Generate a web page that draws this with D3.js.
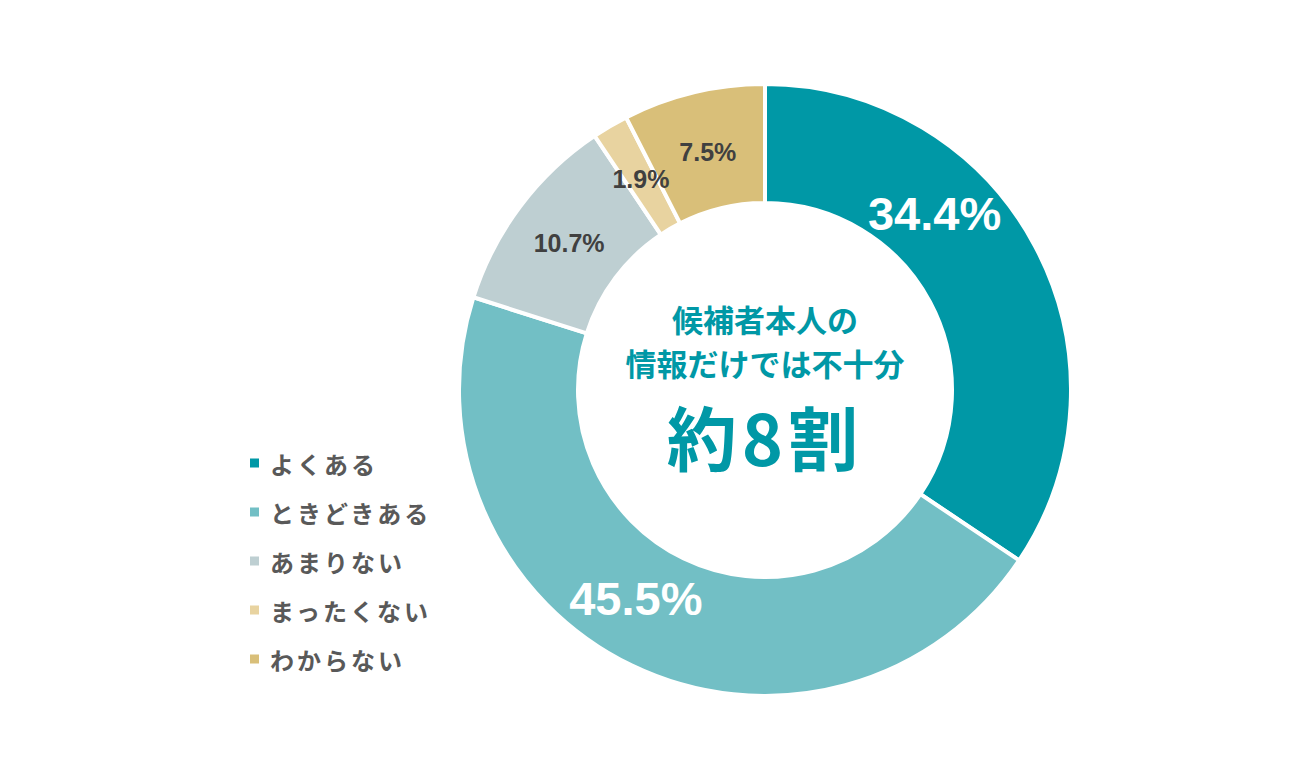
<!DOCTYPE html>
<html>
<head>
<meta charset="utf-8">
<script src="https://cdn.jsdelivr.net/npm/d3@7"></script>
<style>
  html, body { margin: 0; padding: 0; background: #fff; }
  svg { display: block; }
</style>
</head>
<body>
<svg id="chart" width="1300" height="780"></svg>
<script>
// chart data
const categories = ["よくある", "ときどきある", "あまりない", "まったくない", "わからない"];
const values = [34.4, 45.5, 10.7, 1.9, 7.5];
const colors = ["#0098A6", "#72BFC5", "#BECFD2", "#E8D3A0", "#D9BF79"];
const centerLines = ["候補者本人の", "情報だけでは不十分"];
const centerBig = "約8割";

const svg = d3.select("#chart");
const cx = 765, cy = 390;
const outerR = 306, innerR = 187;

const pie = d3.pie().sort(null).value(d => d);
const arcs = pie(values);
const arc = d3.arc().innerRadius(innerR).outerRadius(outerR);

const g = svg.append("g").attr("transform", `translate(${cx},${cy})`);

g.selectAll("path.slice").data(arcs).enter().append("path")
  .attr("class", "slice")
  .attr("d", arc)
  .attr("fill", (d, i) => colors[i])
  .attr("stroke", "#fff")
  .attr("stroke-width", 4);

// percent labels - big white ones for the large slices, small dark ones otherwise
const labelFont = "'Liberation Sans', Arial, sans-serif";
const labelStyle = [
  { size: 47, fill: "#fff" },
  { size: 47, fill: "#fff" },
  { size: 25, fill: "#404040" },
  { size: 25, fill: "#404040" },
  { size: 25, fill: "#404040" }
];
const labelR = 245;
// the two big labels are pulled off the slice middle a bit
const angleNudge = [-0.316, 0.106, 0, 0, 0];
const labelAngle = (d, i) => (d.startAngle + d.endAngle) / 2 + angleNudge[i];

g.selectAll("text.pct").data(arcs).enter().append("text")
  .attr("class", "pct")
  .attr("x", (d, i) => Math.sin(labelAngle(d, i)) * labelR)
  .attr("y", (d, i) => -Math.cos(labelAngle(d, i)) * labelR)
  .attr("text-anchor", "middle")
  .attr("dominant-baseline", "central")
  .attr("font-family", labelFont)
  .attr("font-weight", "bold")
  .attr("font-size", (d, i) => labelStyle[i].size)
  .attr("fill", (d, i) => labelStyle[i].fill)
  .text(d => d.data.toFixed(1) + "%");

// center text
const cjk = "'Noto Sans CJK JP', 'Noto Sans', sans-serif";
const teal = "#0098A6";
g.selectAll("text.center").data(centerLines).enter().append("text")
  .attr("class", "center")
  .attr("x", 0)
  .attr("y", (d, i) => -72 + i * 44)
  .attr("text-anchor", "middle")
  .attr("dominant-baseline", "central")
  .attr("font-family", cjk)
  .attr("font-weight", "bold")
  .attr("font-size", 31)
  .attr("fill", teal)
  .text(d => d);

g.append("text")
  .attr("x", 0)
  .attr("y", 45)
  .attr("text-anchor", "middle")
  .attr("dominant-baseline", "central")
  .attr("font-family", cjk)
  .attr("font-weight", "bold")
  .attr("font-size", 70)
  .attr("letter-spacing", 5)
  .attr("fill", teal)
  .text(centerBig);

// legend
const legend = svg.append("g").attr("transform", "translate(250,463)");
const rows = legend.selectAll("g").data(categories).enter().append("g")
  .attr("transform", (d, i) => `translate(0,${i * 49})`);
rows.append("rect")
  .attr("x", 0).attr("y", -4.5)
  .attr("width", 9).attr("height", 9)
  .attr("fill", (d, i) => colors[i]);
rows.append("text")
  .attr("x", 20)
  .attr("y", 0)
  .attr("dominant-baseline", "central")
  .attr("font-family", cjk)
  .attr("font-weight", "bold")
  .attr("font-size", 24)
  .attr("letter-spacing", 3)
  .attr("fill", "#595959")
  .text(d => d);
</script>
</body>
</html>
